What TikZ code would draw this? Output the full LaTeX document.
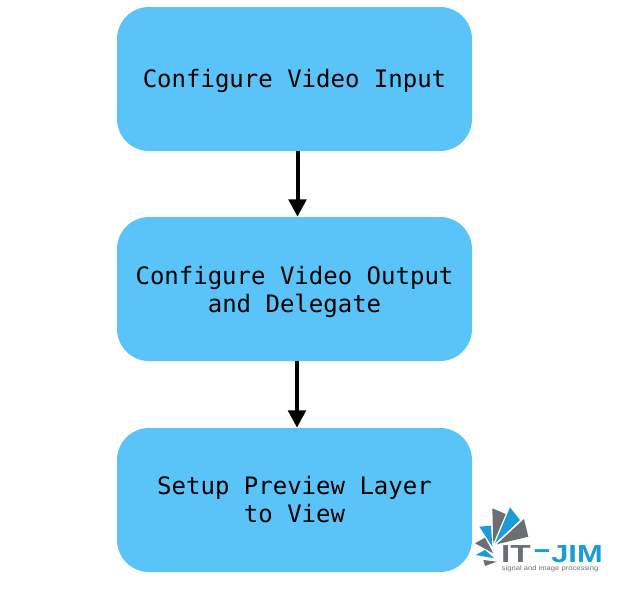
\documentclass[tikz,border=0pt]{standalone}
\usepackage{fontspec}
\setmainfont{DejaVu Sans Mono}
\newfontfamily\logofont{Liberation Sans}
\usetikzlibrary{arrows.meta}
\definecolor{boxblue}{HTML}{5AC4F9}
\definecolor{logoblue}{HTML}{1D9BD8}
\definecolor{logogray}{HTML}{6B6E72}
\tikzset{
  stepbox/.style={draw=none,fill=boxblue,rounded corners=24pt,minimum width=266.25pt,minimum height=108pt,
    align=center,inner sep=0pt,font=\fontsize{18pt}{21pt}\selectfont,text=black},
  flow/.style={line width=3pt,-{Triangle[length=13pt,width=13pt]},black},
  blade gray/.style={fill=logogray,draw=none},
  blade blue/.style={fill=logoblue,draw=none},
  logobig/.style={inner sep=0pt,anchor=west,font=\logofont\bfseries\fontsize{18.5pt}{19pt}\selectfont}
}
\begin{document}
\begin{tikzpicture}[x=0.75pt,y=-0.75pt]
\useasboundingbox (0,0) rectangle (619,590);
\node[stepbox] (a) at (294.5,79) {\rule{0pt}{16.7pt}Configure Video Input};
\node[stepbox] (b) at (294.5,289) {\rule{0pt}{18.2pt}Configure Video Output\\and Delegate};
\node[stepbox] (c) at (294.5,500) {Setup Preview Layer\\to View};
\draw[flow] (a.south -| 297.5,0) -- (b.north -| 297.5,0);
\draw[flow] (b.south -| 297,0) -- (c.north -| 297,0);
\begin{scope}[shift={(460,495)},x=0.25pt,y=-0.25pt]
\fill[blade gray] (97,40) -- (137,57) -- (100,145) -- cycle;
\fill[blade blue] (150,37) -- (180,75) -- (105,145) -- cycle;
\fill[blade gray] (192,72) -- (205,125) -- (110,148) -- cycle;
\fill[blade blue] (58,95) -- (93,92) -- (97,155) -- cycle;
\fill[blade gray] (45,145) -- (75,128) -- (100,175) -- cycle;
\fill[blade blue] (47,180) -- (75,165) -- (103,190) -- cycle;
\fill[blade gray] (70,195) -- (110,200) -- (75,213) -- cycle;
\node[logobig,text=logogray,xscale=1.35] (it) at (122,177) {IT};
\node[logobig,text=logoblue,xscale=2.3] (dash) at (216,177) {-};
\node[logobig,text=logoblue,xscale=1.25] (jim) at (273,177) {JIM};
\node[inner sep=0pt,anchor=west,text=logogray,xscale=1.14,font=\logofont\fontsize{5pt}{5.5pt}\selectfont] (sub) at (125,221) {signal and image processing};
\end{scope}
\end{tikzpicture}
\end{document}
